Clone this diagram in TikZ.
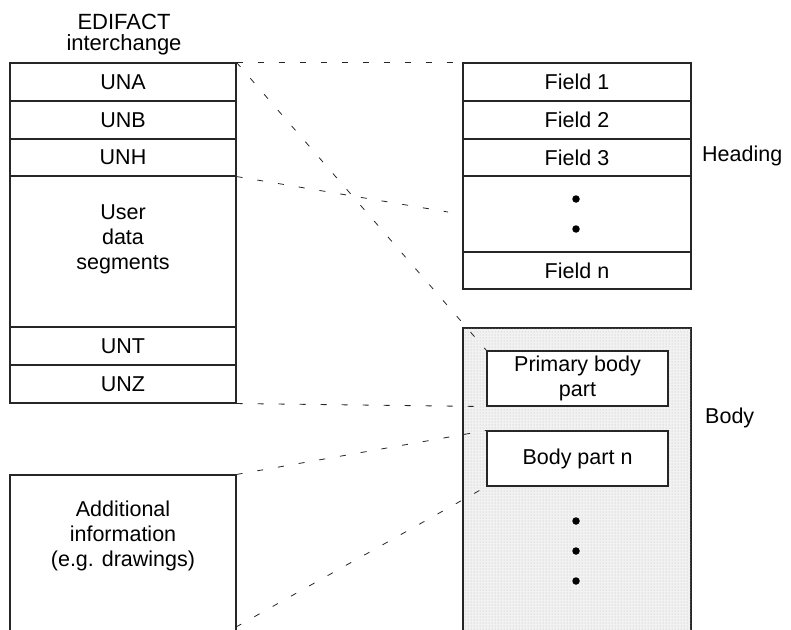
\documentclass[tikz,border=0pt]{standalone}
\usepackage{fontspec}
\setmainfont{Liberation Sans}
\usetikzlibrary{patterns}
\begin{document}
\begin{tikzpicture}[x=1pt,y=-1pt,
  box/.style={draw=black!85, line width=1.1pt, inner sep=0pt, fill=white},
  lcol/.style={box, minimum width=226pt},
  rcol/.style={box, minimum width=228pt},
  txt/.style={inner sep=0pt, align=center, font=\fontsize{21.5}{25}\selectfont},
  dotmark/.style={circle, fill=black, inner sep=0pt, minimum size=7.5pt},
  link/.style={draw=black!85, line width=0.8pt, dash pattern=on 6pt off 15pt}]
\clip (0,0) rectangle (791,629);
\fill[white] (0,0) rectangle (791,629);
% left column
\node[txt, font=\fontsize{22}{21}\selectfont] (edi) at (124,35) {EDIFACT\\interchange};
\node[lcol, minimum height=38pt, font=\fontsize{21.5}{25}\selectfont] (una) at (123,82) {UNA};
\node[lcol, minimum height=38pt, font=\fontsize{21.5}{25}\selectfont] (unb) at (123,120) {UNB};
\node[lcol, minimum height=37pt, font=\fontsize{21.5}{25}\selectfont] (unh) at (123,157.5) {UNH};
\node[lcol, minimum height=151pt] (usr) at (123,251.5) {};
\node[txt] (usrtxt) at (123,239) {User\\data\\segments};
\node[lcol, minimum height=38pt, font=\fontsize{21.5}{25}\selectfont] (unt) at (123,346) {UNT};
\node[lcol, minimum height=38pt, font=\fontsize{21.5}{25}\selectfont] (unz) at (123,384) {UNZ};
\node[lcol, minimum height=225pt] (add) at (123,587.5) {};
\node[txt] (addtxt) at (123,536) {Additional\\information\\(e.g. drawings)};
\coordinate (addbr) at (236,627);
% heading
\node[rcol, minimum height=38pt, font=\fontsize{21.5}{25}\selectfont] (f1) at (577,82) {Field 1};
\node[rcol, minimum height=38pt, font=\fontsize{21.5}{25}\selectfont] (f2) at (577,120) {Field 2};
\node[rcol, minimum height=37pt, font=\fontsize{21.5}{25}\selectfont] (f3) at (577,157.5) {Field 3};
\node[rcol, minimum height=76pt] (fdots) at (577,214) {};
\node[dotmark] (hd1) at (576,199) {};
\node[dotmark] (hd2) at (576,229) {};
\node[rcol, minimum height=37pt, font=\fontsize{21.5}{25}\selectfont] (fn) at (577,270.5) {Field n};
\node[txt, anchor=west] (heading) at (702,156) {Heading};
% body
\node[box, minimum width=228pt, minimum height=372pt, fill=black!5,
      postaction={pattern=dots, pattern color=black!28}] (body) at (577,514) {};
\node[box, minimum width=181pt, minimum height=55pt] (prim) at (577.5,378.5) {};
\node[txt] (primtxt) at (577.5,378) {Primary body\\part};
\node[box, minimum width=181pt, minimum height=55pt, font=\fontsize{21.5}{25}\selectfont] (bpn) at (577.5,458.5) {Body part n};
\node[dotmark] (bd1) at (576,521) {};
\node[dotmark] (bd2) at (576,551) {};
\node[dotmark] (bd3) at (576,581) {};
\node[txt, anchor=west] (bodylbl) at (705,418) {Body};
% links
\coordinate (hmid) at (448,212);
\draw[link] (una.north east) -- (f1.north west);
\draw[link] (una.north east) -- (prim.north west);
\draw[link] (unh.south east) -- (hmid);
\draw[link] (unz.south east) -- (prim.south west);
\draw[link] (add.north east) -- (bpn.north west);
\draw[link] (addbr) -- (bpn.south west);
\end{tikzpicture}
\end{document}
